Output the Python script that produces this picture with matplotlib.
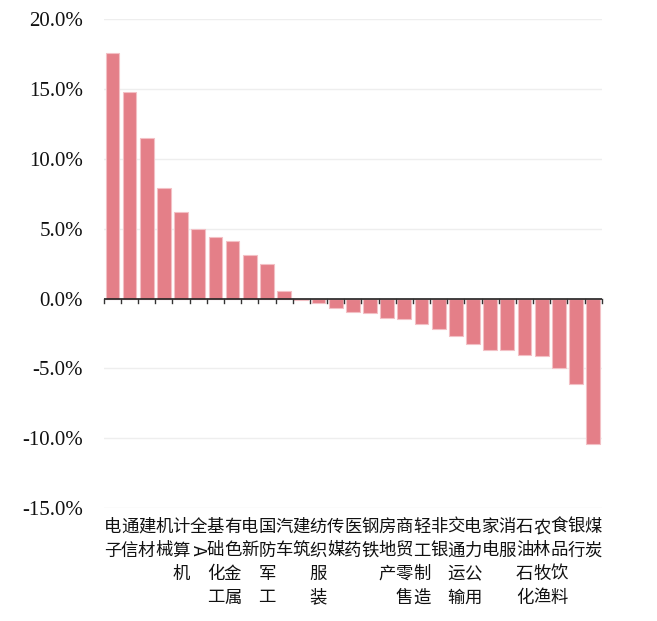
import matplotlib
matplotlib.use("Agg")
import matplotlib.pyplot as plt
import matplotlib.transforms as mtransforms
import numpy as np

# 行业涨跌幅 (%)
industries = ["电子", "通信", "建材", "机械", "计算机", "全A", "基础化工", "有色金属",
              "电新", "国防军工", "汽车", "建筑", "纺织服装", "传媒", "医药", "钢铁",
              "房地产", "商贸零售", "轻工制造", "非银", "交通运输", "电力公用", "家电",
              "消服", "石油石化", "农林牧渔", "食品饮料", "银行", "煤炭"]
returns = [17.6, 14.8, 11.5, 7.9, 6.2, 5.0, 4.4, 4.1,
           3.1, 2.45, 0.57, -0.07, -0.33, -0.69, -0.98, -1.05,
           -1.4, -1.45, -1.85, -2.15, -2.7, -3.25, -3.7,
           -3.7, -4.05, -4.15, -4.95, -6.1, -10.4]
yticks = [-15, -10, -5, 0, 5, 10, 15, 20]

cjk = ["Noto Sans CJK SC", "DejaVu Sans"]

fig = plt.figure(figsize=(6.57, 6.21), dpi=100)
ax = fig.add_axes([0.158, 0.182, 0.758, 0.787])

x = np.arange(len(industries))
ax.bar(x, returns, width=0.8, color="#e47f88", edgecolor="#f3c0c5", linewidth=0.8, zorder=3)

ax.set_xlim(-0.5, len(industries) - 0.5)
ax.set_ylim(-15, 20)
ax.set_yticks(yticks)
ax.set_yticklabels(["{:.1f}%".format(v) for v in yticks], family="Liberation Serif",
                   fontsize=15, color="#111111")
ax.tick_params(axis="y", length=0, pad=15)
ax.grid(axis="y", color="#eeeeee", linewidth=1, zorder=0)
for s in ax.spines.values():
    s.set_visible(False)

# zero line with ticks at category boundaries
ax.axhline(0, color="#222222", linewidth=1.2, zorder=4)
ax.set_xticks([])
for b in np.arange(-0.5, len(industries), 1.0):
    ax.plot([b, b], [0, -0.35], color="#333333", linewidth=1, zorder=4, clip_on=False)

# vertical labels, one character per line
lab_tr = mtransforms.blended_transform_factory(ax.transData, fig.transFigure)
y0 = 1 - 527 / 621
step = 23.5 / 621
for i, name in enumerate(industries):
    for j, ch in enumerate(name):
        rot = -90 if ch == "A" else 0
        ax.text(i, y0 - j * step, ch, transform=lab_tr, ha="center", va="center",
                family=cjk, fontsize=12.5, color="#111111", rotation=rot)

fig.savefig("out.png", dpi=100)
